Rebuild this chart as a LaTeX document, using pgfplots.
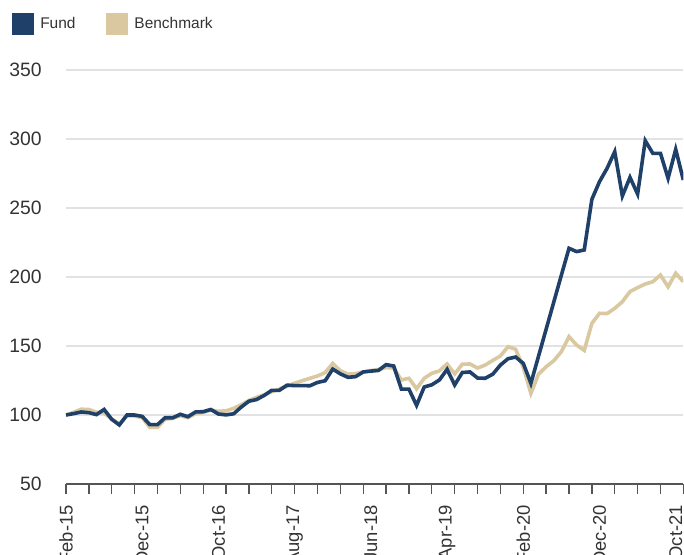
\documentclass[border=0pt]{standalone}
\usepackage{pgfplots}
\usepackage{pgfplotstable}
\pgfplotsset{compat=1.18}
\usepackage{fontspec}
\setmainfont{Liberation Sans}
\definecolor{fundblue}{HTML}{1F4169}
\definecolor{benchtan}{HTML}{D9C8A0}
\definecolor{txt}{HTML}{333333}
\definecolor{gridc}{HTML}{E2E2E2}
\definecolor{axc}{HTML}{555555}

\pgfplotstableread{
i fund bench
0 100 100
1 101 102
2 102.2 104.2
3 101.7 104
4 100.3 102
5 104 101.5
6 96.9 97
7 92.8 93.5
8 100 99.5
9 100 99.3
10 99 98
11 93 91
12 93 91
13 98 97
14 98 97.5
15 100.5 99.5
16 98.8 98
17 102.2 101
18 102.4 102
19 104 103.5
20 100.7 102.7
21 100.1 103
22 100.9 104.8
23 105.8 107.5
24 110 110.5
25 111.2 112.8
26 114.2 114.5
27 117.9 116.9
28 117.9 118.8
29 121.6 121
30 121.3 123
31 121.3 124.9
32 121.2 126.6
33 123.6 128.3
34 124.8 130.7
35 133.3 137.4
36 129.8 132
37 127.3 129.6
38 127.8 130
39 131.2 131.2
40 131.8 132.2
41 132.3 133
42 136.5 134.4
43 135.5 134
44 118.8 125.4
45 118.7 126.6
46 107 119
47 120.3 126.6
48 121.9 130.2
49 125.4 132
50 133.1 137
51 121.8 129.8
52 130.8 136.8
53 131.2 137
54 126.8 134
55 126.6 136.2
56 129.6 139.6
57 136.2 142.8
58 140.8 149.5
59 142 147.6
60 137.4 134.5
61 123 115.7
62 142.6 129.6
63 162.2 135
64 181.8 139.3
65 201.4 145.9
66 220.8 156.8
67 218.4 150.7
68 219.6 146.8
69 256.3 166.4
70 269.1 173.7
71 278.8 173.5
72 290.8 177.3
73 258.7 182.1
74 272.2 189.4
75 260.1 192.3
76 298.8 194.9
77 289.6 196.6
78 289.6 201.4
79 271.5 192.9
80 292.5 202.7
81 270.3 196.6
}\datatable

\begin{document}
\begin{tikzpicture}
\path[use as bounding box] (-49.5pt,-52.5pt) rectangle (463.5pt,363pt);
\begin{axis}[
  at={(0,0)}, anchor=south west,
  scale only axis,
  width=463pt, height=310.5pt,
  xmin=0, xmax=81,
  ymin=50, ymax=350,
  axis x line=bottom,
  axis y line=left,
  x axis line style={-, draw=axc, line width=1.2pt},
  y axis line style={draw=none},
  xtick={0,3,...,81},
  xticklabels={},
  xtick align=outside,
  major x tick style={draw=axc, line width=1pt},
  major tick length=7.5pt,
  extra x ticks={0,10,20,30,40,50,60,70,80},
  extra x tick labels={Feb-15,Dec-15,Oct-16,Aug-17,Jun-18,Apr-19,Feb-20,Dec-20,Oct-21},
  extra x tick style={
    major tick length=0pt,
    xticklabel style={rotate=90, anchor=east, inner sep=0pt, text=txt, font=\fontsize{13.8}{16}\selectfont},
    xticklabel shift=15.75pt,
  },
  ytick={50,100,...,350},
  ytick style={draw=none},
  yticklabel style={anchor=east, inner sep=0pt, text=txt, font=\fontsize{14.5}{17}\selectfont},
  yticklabel shift=14.25pt,
  /pgf/number format/assume math mode=true,
  ymajorgrids,
  grid style={draw=gridc, line width=1pt},
  legend columns=2,
  legend style={
    at={(axis description cs:-0.0875,1.1377)}, anchor=north west,
    draw=none, fill=none, inner sep=0pt, outer sep=0pt,
    font=\fontsize{11.6}{14}\selectfont, text=txt,
    nodes={inner sep=0pt, anchor=west},
    /tikz/every odd column/.style={column sep=4.5pt},
    /tikz/every even column/.style={column sep=23pt},
  },
  legend image code/.code={\fill[#1] (0pt,-7pt) rectangle (14pt,7pt);},
  reverse legend,
]
\addplot[color=benchtan, line width=2.7pt] table[x=i, y=bench] {\datatable};
\addlegendentry{Benchmark}
\addplot[color=fundblue, line width=2.7pt] table[x=i, y=fund] {\datatable};
\addlegendentry{Fund}
\end{axis}
\end{tikzpicture}
\end{document}
